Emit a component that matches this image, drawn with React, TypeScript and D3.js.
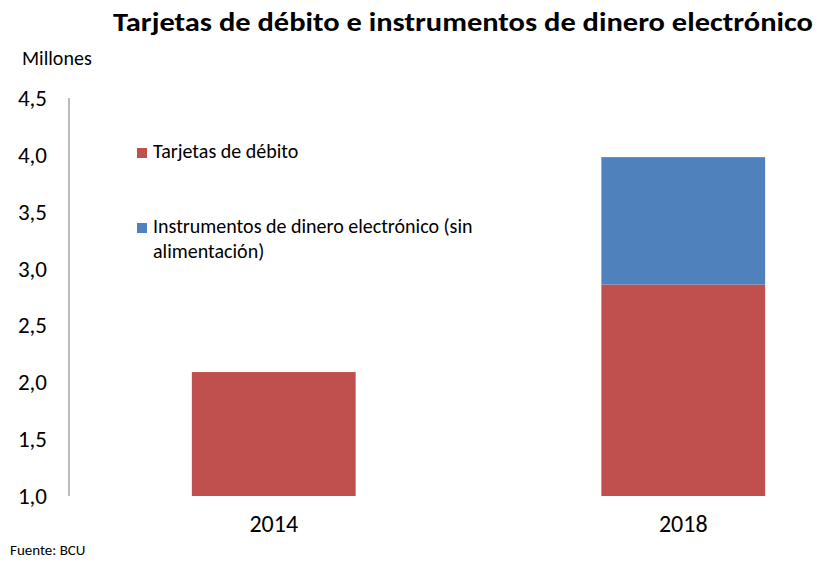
import { useEffect, useRef } from 'react';
import * as d3 from 'd3';

const years = ['2014', '2018'];
const debitCards = [2.09, 2.86];
const eMoney = [0, 1.12];
const yTicks = [1.0, 1.5, 2.0, 2.5, 3.0, 3.5, 4.0, 4.5];
const seriesNames = ['Tarjetas de débito', 'Instrumentos de dinero electrónico (sin', 'alimentación)'];
const colors = ['#C0504D', '#4F81BD'];

const FONT = "Carlito, 'Open Sans', 'Noto Sans', sans-serif";

const App = () => {
  const ref = useRef<SVGSVGElement>(null);

  useEffect(() => {
    const svg = d3.select(ref.current);
    svg.selectAll('*').remove();

    const W = 817;
    const H = 561;

    const y = d3.scaleLinear().domain([1, 4.5]).range([496, 98]);
    const x = d3.scaleBand<string>()
      .domain(years)
      .range([69, 888])
      .paddingInner(0.6)
      .paddingOuter(0.3);

    svg.attr('width', W).attr('height', H).style('font-family', FONT);

    // title
    svg.append('text')
      .attr('x', 463)
      .attr('y', 31)
      .attr('text-anchor', 'middle')
      .style('font-size', '26px')
      .style('font-weight', 'bold')
      .attr('textLength', 700)
      .attr('lengthAdjust', 'spacingAndGlyphs')
      .text('Tarjetas de débito e instrumentos de dinero electrónico');

    svg.append('text')
      .attr('x', 22)
      .attr('y', 65)
      .style('font-size', '20px')
      .text('Millones');

    // y axis
    svg.append('line')
      .attr('x1', 69).attr('x2', 69)
      .attr('y1', y(4.5)).attr('y2', y(1))
      .attr('stroke', '#A6A6A6')
      .attr('stroke-width', 1.5);

    svg.append('g')
      .selectAll('text')
      .data(yTicks)
      .join('text')
      .attr('x', 47)
      .attr('y', d => y(d) + 8)
      .attr('text-anchor', 'end')
      .style('font-size', '23px')
      .text(d => d3.format('.1f')(d).replace('.', ','));

    // bars
    const stack = years.map((yr, i) => ({ yr, a: debitCards[i], b: eMoney[i] }));
    const g = svg.append('g');
    stack.forEach(d => {
      g.append('rect')
        .attr('x', x(d.yr)!)
        .attr('width', x.bandwidth())
        .attr('y', y(d.a))
        .attr('height', y(1) - y(d.a))
        .attr('fill', colors[0]);
      if (d.b > 0) {
        g.append('rect')
          .attr('x', x(d.yr)!)
          .attr('width', x.bandwidth())
          .attr('y', y(d.a + d.b))
          .attr('height', y(d.a) - y(d.a + d.b))
          .attr('fill', colors[1]);
      }
    });

    // x labels
    svg.append('g')
      .selectAll('text')
      .data(years)
      .join('text')
      .attr('x', d => x(d)! + x.bandwidth() / 2)
      .attr('y', 532)
      .attr('text-anchor', 'middle')
      .style('font-size', '24px')
      .text(d => d);

    // legend
    const legend = svg.append('g').style('font-size', '20px');
    legend.append('rect').attr('x', 137).attr('y', 148).attr('width', 10).attr('height', 10).attr('fill', colors[0]);
    legend.append('text').attr('x', 153).attr('y', 158).text(seriesNames[0]);
    legend.append('rect').attr('x', 137).attr('y', 223).attr('width', 10).attr('height', 10).attr('fill', colors[1]);
    legend.append('text').attr('x', 153).attr('y', 233).text(seriesNames[1]);
    legend.append('text').attr('x', 153).attr('y', 258).text(seriesNames[2]);

    svg.append('text')
      .attr('x', 10)
      .attr('y', 555)
      .style('font-size', '15px')
      .text('Fuente: BCU');
  }, []);

  return <svg ref={ref} style={{ position: 'absolute', left: 0, top: 0 }} />;
};

export default App;
